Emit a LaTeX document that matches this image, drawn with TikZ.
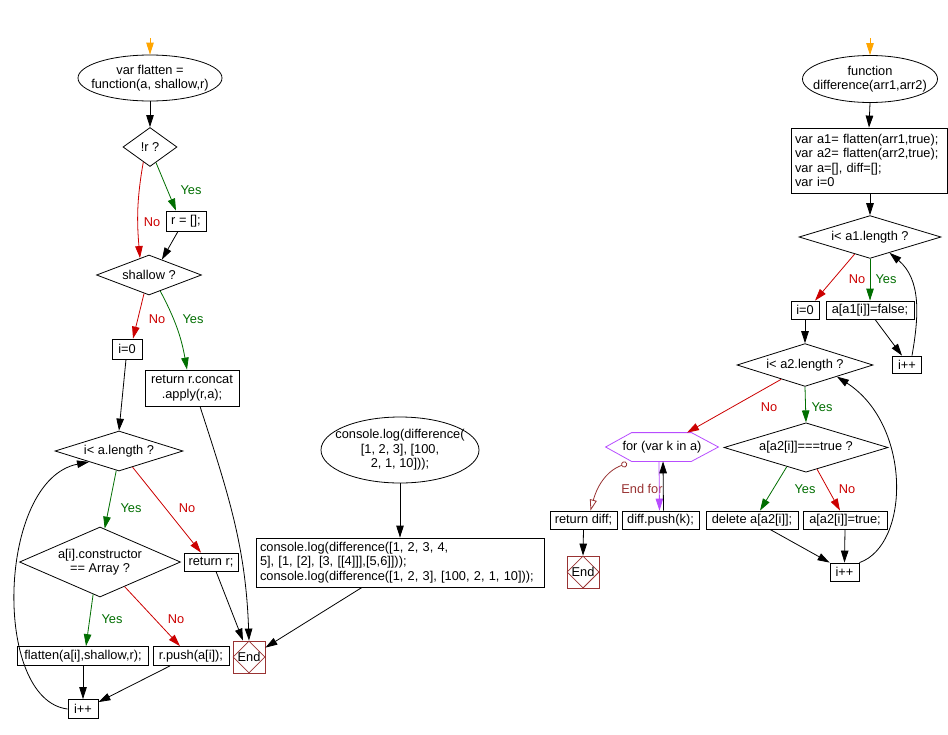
\documentclass[tikz,border=0pt]{standalone}
\usepackage{fontspec}
\setmainfont{Liberation Sans}
\usetikzlibrary{shapes.geometric,arrows.meta,calc}
\definecolor{myred}{HTML}{CC0000}
\definecolor{mygreen}{HTML}{006E00}
\definecolor{endc}{HTML}{993333}
\definecolor{purp}{HTML}{B84DFF}
\definecolor{orng}{HTML}{FFA500}
\begin{document}
\begin{tikzpicture}[x=1pt,y=-1pt, font=\fontsize{12.8}{14.5}\selectfont, line width=0.8pt,
 arr/.style={-{Triangle[length=12pt,width=7.5pt]}},
 yesc/.style={arr, draw=mygreen},
 noc/.style={arr, draw=myred},
 box/.style={draw, rectangle, inner sep=0pt, minimum height=19pt},
 dia/.style={draw, diamond, inner sep=0pt, aspect=2.5},
 ellbox/.style={rectangle, inner sep=0pt, align=center},
 ylab/.style={text=mygreen, inner sep=1pt},
 nlab/.style={text=myred, inner sep=1pt},
 endbox/.style={draw=endc, rectangle, minimum width=32pt, minimum height=32pt, inner sep=0pt},
 enddia/.style={draw=endc, diamond, minimum width=32pt, minimum height=32pt, inner sep=0pt}
]
\path[use as bounding box, fill=white] (0,0) rectangle (948,734);

% ---------- left chart ----------
\coordinate (s1) at (150,38);
\node[ellbox, minimum width=144pt, minimum height=46pt] (ell1) at (150,78) {var flatten =\\function(a, shallow,r)};
\draw (ell1.center) ellipse [x radius=72, y radius=23];
\node[dia, minimum width=54pt, minimum height=39pt] (dr) at (150,147) {!r ?};
\node[box, minimum width=40pt, minimum height=20pt] (r0) at (186,221) {r = [];};
\node[dia, minimum width=105pt, minimum height=40pt] (dsh) at (149,275) {shallow ?};
\node[box, minimum width=30pt, minimum height=20pt] (i0) at (127,349) {i=0};
\node[box, minimum width=94pt, minimum height=36pt, align=center] (rc) at (192,388) {return r.concat\\.apply(r,a);};
\node[dia, minimum width=128pt, minimum height=40pt] (dal) at (119,451) {i< a.length ?};
\node[dia, minimum width=161pt, minimum height=70pt, align=center] (dcon) at (100,562) {a[i].constructor\\== Array ?};
\node[box, minimum width=54pt, minimum height=18pt] (rr) at (211,562) {return r;};
\node[box, minimum width=131pt] (fl) at (83,656) {flatten(a[i],shallow,r);};
\node[box, minimum width=76pt] (rp) at (191,656) {r.push(a[i]);};
\node[endbox] (end1) at (249,657) {};
\node[enddia] (end1d) at (end1) {End};
\node[box, minimum width=30pt] (ipp) at (83,709) {i++};
\node[ellbox, minimum width=158pt, minimum height=66pt] (ell2) at (400,450) {console.log(difference(\\{}[1, 2, 3], [100,\\2, 1, 10]));};
\draw (ell2.center) ellipse [x radius=79, y radius=33];
\node[box, text width=280pt, inner xsep=4pt, minimum height=49pt, align=left] (cb) at (400,562.5) {console.log(difference([1, 2, 3, 4,\\5], [1, [2], [3, [[4]]],[5,6]]));\\console.log(difference([1, 2, 3], [100, 2, 1, 10]));};

\node[ylab] (l1) at (191,190) {Yes};
\node[nlab] (l2) at (152,222) {No};
\node[nlab] (l3) at (157,319) {No};
\node[ylab] (l4) at (193,319) {Yes};
\node[ylab] (l5) at (131,508) {Yes};
\node[nlab] (l6) at (187,508) {No};
\node[ylab] (l7) at (112,619) {Yes};
\node[nlab] (l8) at (176,619) {No};

\draw[arr, draw=orng] (s1) -- (ell1.north);
\draw[arr] (ell1.south) -- (dr.north);
\draw[yesc] (dr.291) -- ([xshift=-10pt]r0.north);
\draw[noc] (dr.246) to[out=260,in=95] (dsh.118);
\draw[arr] ([xshift=-8pt]r0.south) -- (dsh.50);
\draw[noc] (dsh.255) -- ([xshift=6pt]i0.north);
\draw[yesc] (dsh.305) to[out=-62,in=100] ([xshift=-5pt]rc.north);
\draw[arr] ([xshift=-1pt]i0.south) -- (dal.north);
\draw[yesc] (dal.262) -- (dcon.82);
\draw[noc] (dal.310) -- ([xshift=-10pt]rr.north);
\draw[yesc] (dcon.258) -- ([xshift=3pt]fl.north);
\draw[noc] (dcon.315) -- ([xshift=-11pt]rp.north);
\draw[arr] (fl.south) -- (ipp.north);
\draw[arr] ([xshift=-21pt]rp.south) -- ([yshift=-3pt]ipp.north east);
\draw[arr] (ipp.west) .. controls (-8,700) and (-3,480) .. (dal.200);
\draw[arr] ([xshift=5pt]rr.south) -- ([xshift=-6pt]end1.north);
\draw[arr] ([xshift=8pt]rc.south) to[out=-72,in=92] (end1.north);
\draw[arr] (ell2.south) -- (cb.north);
\draw[arr] ([xshift=-38pt]cb.south) -- ([yshift=-7pt]end1.north east);

% ---------- right chart ----------
\coordinate (s2) at (870,38);
\node[ellbox, minimum width=135pt, minimum height=47pt] (ell3) at (870,79) {function\\difference(arr1,arr2)};
\draw (ell3.center) ellipse [x radius=67.5, y radius=23.5];
\node[box, text width=148pt, inner xsep=4pt, minimum height=65pt, align=left] (bx) at (869,160.5) {var a1= flatten(arr1,true);\\var a2= flatten(arr2,true);\\var a=[], diff=[];\\var i=0};
\node[dia, minimum width=142pt, minimum height=39pt] (da1) at (870,237) {i< a1.length ?};
\node[box, minimum width=28pt, minimum height=18pt] (i0b) at (805,310) {i=0};
\node[box, minimum width=88pt, minimum height=18pt] (afb) at (870,310) {a[a1[i]]=false;};
\node[box, minimum width=29pt, minimum height=17pt] (ipb1) at (907,364.5) {i++};
\node[dia, minimum width=136pt, minimum height=39pt] (da2) at (805,365) {i< a2.length ?};
\node[minimum width=112pt, minimum height=28pt, inner sep=0pt] (for) at (662,447) {for (var k in a)};
\draw[purp] (for.west) -- ($(for.north west)+(26,0)$) -- ($(for.north east)+(-27,0)$) -- (for.east) -- ($(for.south east)+(-27,0)$) -- ($(for.south west)+(26,0)$) -- cycle;
\node[dia, minimum width=164pt, minimum height=39pt] (dat) at (806,447.5) {a[a2[i]]===true ?};
\node[box, minimum width=92pt, minimum height=18pt] (del) at (752,520) {delete a[a2[i]];};
\node[box, minimum width=84pt, minimum height=18pt] (atr) at (845,520) {a[a2[i]]=true;};
\node[box, minimum width=29pt, minimum height=18pt] (ipb2) at (844.5,572) {i++};
\node[box, minimum width=67pt, minimum height=18pt] (rd) at (583.5,520) {return diff;};
\node[box, minimum width=77pt, minimum height=18pt] (dp) at (660.5,520) {diff.push(k);};
\node[endbox] (end2) at (583,572) {};
\node[enddia] (end2d) at (end2) {End};

\node[nlab] (r1) at (857,279) {No};
\node[ylab] (r2) at (886,279) {Yes};
\node[nlab] (r3) at (769,407) {No};
\node[ylab] (r4) at (822,407) {Yes};
\node[ylab] (r5) at (805,489) {Yes};
\node[nlab] (r6) at (847,489) {No};
\node[text=endc, inner sep=1pt] (r7) at (642,489) {End for};

\draw[arr, draw=orng] (s2) -- (ell3.north);
\draw[arr] (ell3.south) -- (bx.north);
\draw[arr] ([xshift=1pt]bx.south) -- (da1.north);
\draw[noc] (da1.228) -- ([xshift=10pt]i0b.north);
\draw[yesc] (da1.south) -- (afb.north);
\draw[arr] ([xshift=5pt]afb.south) -- ([xshift=-5pt]ipb1.north);
\draw[arr] ([xshift=5pt]ipb1.north) to[out=80,in=-40] (da1.321);
\draw[arr] (i0b.south) -- (da2.north);
\draw[noc] (da2.211) -- ([xshift=25pt]for.north);
\draw[yesc] (da2.south) -- (dat.north);
\draw[yesc] (dat.225) -- ([xshift=8pt]del.north);
\draw[noc] (dat.297) -- ([xshift=-5pt]atr.north);
\draw[arr] ([xshift=18pt]del.south) -- (ipb2.north west);
\draw[arr] (atr.south) -- (ipb2.north);
\draw[arr] (ipb2.north east) .. controls (910,545) and (912,425) .. (da2.340);
\draw[arr, draw=purp] ([xshift=-3pt]for.south) -- ([xshift=-1pt]dp.north);
\draw[arr] ([xshift=3pt]dp.north) -- ([xshift=1pt]for.south);
\draw[endc, {Circle[open,length=6pt,width=6pt]}-{Triangle[open,length=11pt,width=7pt]}] ([xshift=-35pt,yshift=-2pt]for.south) to[out=200,in=75] ([xshift=7pt]rd.north);
\draw[arr] (rd.south) -- (end2.north);
\end{tikzpicture}
\end{document}
